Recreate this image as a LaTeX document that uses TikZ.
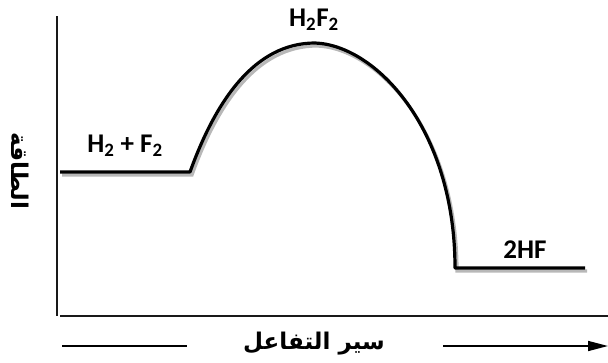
\documentclass[tikz,border=0pt]{standalone}
\usepackage{fontspec}
\setmainfont{Carlito}
\newfontfamily\arabicfont[Script=Arabic]{DejaVu Sans}
\TeXXeTstate=1
\usepackage{tikz}
\usetikzlibrary{arrows.meta, positioning}

\newcommand{\rxnpath}{(r0) -- (r1) .. controls (216,100) and (255,43) .. (ts) .. controls (375,45) and (455,128) .. (p0) -- (p1)}

\begin{document}
\begin{tikzpicture}[
    x=1pt, y=-1pt,
    every node/.style={font=\bfseries\fontsize{27}{32}\selectfont, inner sep=0pt},
    axis/.style={line width=1.8pt, color=black!90},
    curve/.style={line width=3.2pt, line join=round},
    shadow/.style={line width=3.2pt, color=black!28, transform canvas={xshift=2pt, yshift=-3pt}},
    guide/.style={line width=1.5pt},
    arlbl/.style={font=\arabicfont\bfseries\fontsize{23}{28}\selectfont}
]
\useasboundingbox (0,0) rectangle (608,362);

% axes
\coordinate (origin) at (57,316);
\coordinate (ytop) at (57,16);
\coordinate (xend) at (608,316);
\draw [axis] (ytop) -- (origin);
\draw [axis] (60,316) -- (xend);

% energy profile
\coordinate (r0) at (60,172);
\coordinate (r1) at (190,172);
\coordinate (ts) at (315,43);
\coordinate (p0) at (455,268);
\coordinate (p1) at (585,268);
\draw [shadow] \rxnpath;
\draw [curve] \rxnpath;

\node (react) at (125,146) {H\textsubscript{2} + F\textsubscript{2}};
\node (trans) at (314,20) {H\textsubscript{2}F\textsubscript{2}};
\node (prod) at (525,250) {2HF};

% axis labels
\node (energy) [arlbl, rotate=-90] at (20,171) {\beginR الطاقة\endR};
\node (course) [arlbl] at (314,344) {\beginR سير التفاعل\endR};

\coordinate (al1) at (62,346);
\coordinate (al2) at (187,346);
\coordinate (ar1) at (443,346);
\coordinate (ar2) at (608,346);
\draw [guide] (al1) -- (al2);
\draw [guide, -{Triangle[length=20pt, width=10pt]}] (ar1) -- (ar2);

\end{tikzpicture}
\end{document}
